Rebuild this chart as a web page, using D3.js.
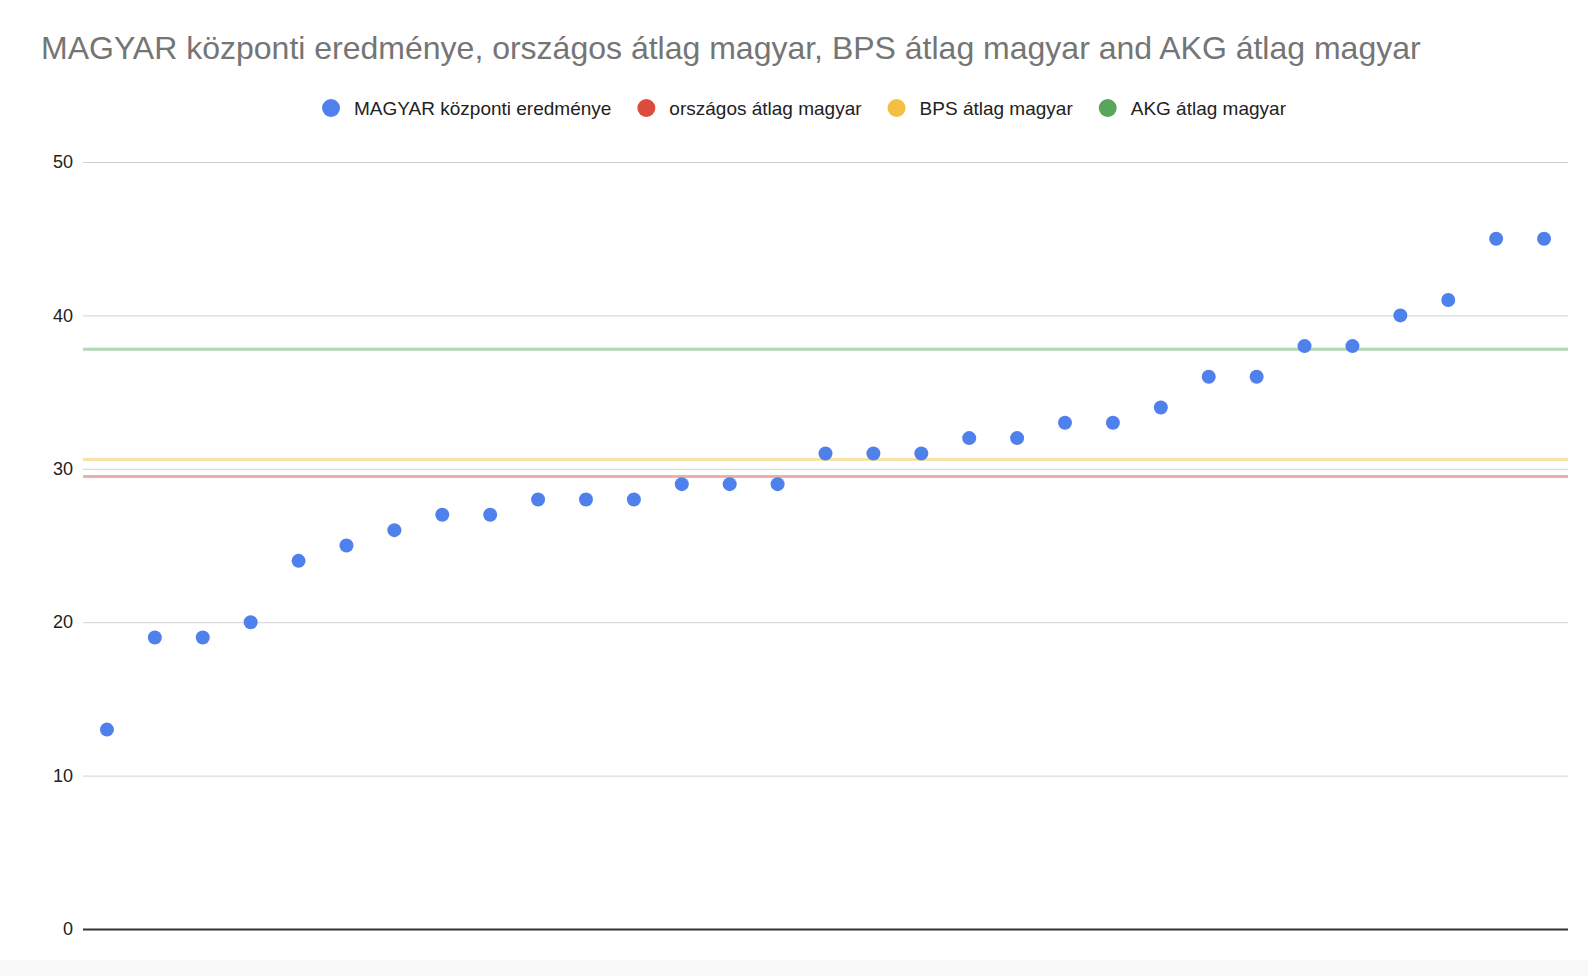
<!DOCTYPE html>
<html>
<head>
<meta charset="utf-8">
<script src="https://cdn.jsdelivr.net/npm/d3@7"></script>
<style>
	body { margin: 0; background: #fff; }
	text { font-family: "Liberation Sans", Arial, sans-serif; }
</style>
</head>
<body>
<svg id="svg" width="1588" height="976"></svg>
<script>
"use strict";

// chart data
const title = "MAGYAR központi eredménye, országos átlag magyar, BPS átlag magyar and AKG átlag magyar";
const seriesNames = ["MAGYAR központi eredménye", "országos átlag magyar", "BPS átlag magyar", "AKG átlag magyar"];
const seriesColors = ["#4f81ed", "#db4b3e", "#f2bf42", "#58a65c"];
const students = d3.range(1, 32).map(String);
const scores = [13, 19, 19, 20, 24, 25, 26, 27, 27, 28, 28, 28, 29, 29, 29, 31, 31, 31, 32, 32, 33, 33, 34, 36, 36, 38, 38, 40, 41, 45, 45];
const averages = [29.5, 30.6, 37.8]; // országos, BPS, AKG
const yTicks = [0, 10, 20, 30, 40, 50];

const svg = d3.select("#svg");
const margin = { left: 83, right: 20, top: 162, bottom: 47 };
const W = 1588, H = 976;

// faint strip at the bottom of the frame
svg.append("rect")
	.attr("x", 0).attr("y", 960)
	.attr("width", W).attr("height", H - 960)
	.attr("fill", "#f9f9f9");

const x = d3.scaleBand()
	.domain(students)
	.range([margin.left, W - margin.right])
	.padding(0);

const y = d3.scaleLinear()
	.domain([0, 50])
	.range([H - margin.bottom, margin.top]);

// title
svg.append("text")
	.text(title)
	.attr("x", 41)
	.attr("y", 59)
	.attr("font-size", "32px")
	.attr("fill", "#757575");

// gridlines + y labels
const yAxis = d3.axisLeft(y)
	.tickValues(yTicks)
	.tickSize(-(W - margin.left - margin.right))
	.tickPadding(10);

const ya = svg.append("g")
	.attr("transform", `translate(${margin.left},0)`)
	.call(yAxis);
ya.select(".domain").remove();
ya.selectAll(".tick line")
	.attr("stroke", (d) => (d === 0 ? "#333" : "#d0d0d0"))
	.attr("stroke-width", (d) => (d === 0 ? 2 : 1));
ya.selectAll(".tick text")
	.attr("font-size", "18px")
	.attr("fill", "#222")
	.attr("font-family", "Liberation Sans, Arial, sans-serif");

// average lines across the whole plot
svg.append("g")
	.selectAll("line")
	.data(averages)
	.enter()
	.append("line")
	.attr("x1", x.range()[0])
	.attr("x2", x.range()[1])
	.attr("y1", (d) => y(d))
	.attr("y2", (d) => y(d))
	.attr("stroke", (d, i) => seriesColors[i + 1])
	.attr("stroke-opacity", 0.45)
	.attr("stroke-width", 3);

// score points
svg.append("g")
	.selectAll("circle")
	.data(scores)
	.enter()
	.append("circle")
	.attr("cx", (d, i) => x(students[i]) + x.bandwidth() / 2)
	.attr("cy", (d) => y(d))
	.attr("r", 7)
	.attr("fill", seriesColors[0]);

// legend, centred over the plot area
const legend = svg.append("g").attr("id", "legend");
const items = legend.selectAll("g")
	.data(seriesNames)
	.enter()
	.append("g");
items.append("circle")
	.attr("r", 9)
	.attr("cy", 0)
	.attr("fill", (d, i) => seriesColors[i]);
items.append("text")
	.text((d) => d)
	.attr("x", 23)
	.attr("y", 7)
	.attr("font-size", "19px")
	.attr("fill", "#222");

let pos = 0;
items.each(function () {
	const g = d3.select(this);
	const w = g.select("text").node().getComputedTextLength();
	g.attr("transform", `translate(${pos + 9},0)`);
	pos += 9 + 23 + w + 26;
});
pos -= 26;
legend.attr("transform", `translate(${(W - pos) / 2 + 10},108)`);
</script>
</body>
</html>
